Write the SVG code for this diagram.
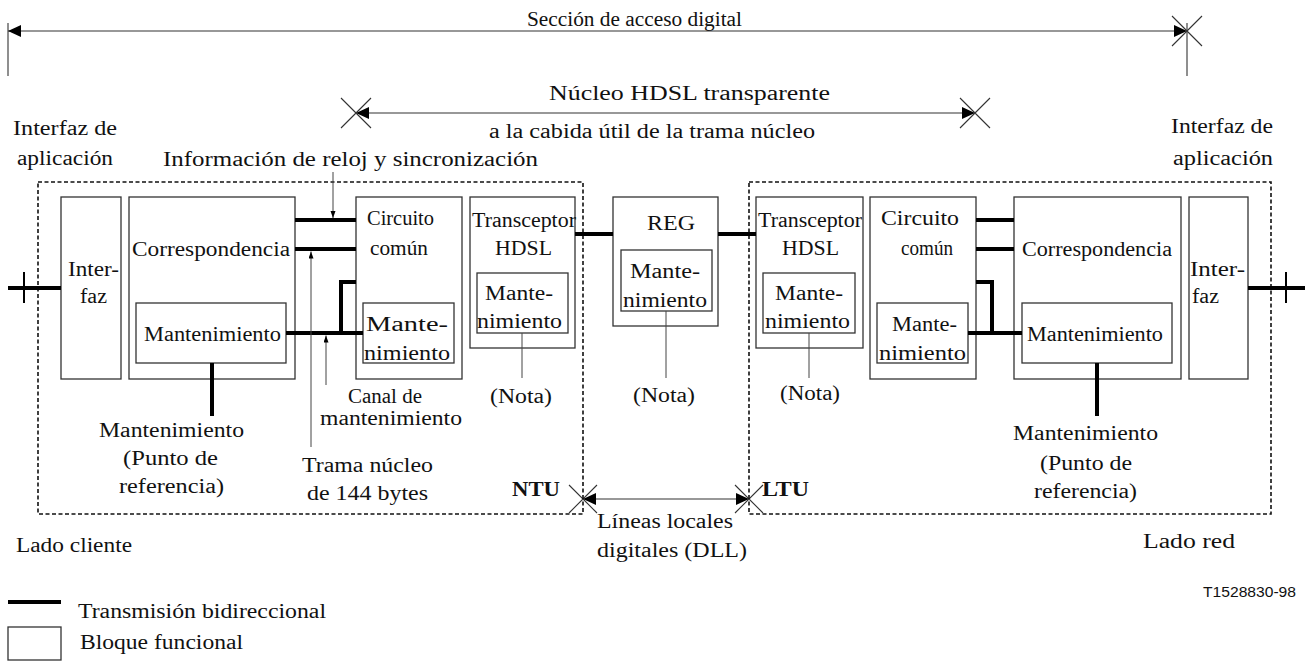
<svg xmlns="http://www.w3.org/2000/svg" width="1305" height="664" viewBox="0 0 1305 664" font-family="'Liberation Serif', 'DejaVu Serif', 'Times New Roman', serif">
  <style>
    text { font-family: 'Liberation Serif', 'DejaVu Serif', 'Times New Roman', serif; font-size: 20px; fill: #111; }
    text.sans { font-family: 'Liberation Sans', Arial, sans-serif; font-size: 14px; }
    .bold { font-weight: bold; }
    .blk { fill: #fff; stroke: #333; stroke-width: 1.3; }
    .unit { fill: none; stroke: #111; stroke-width: 1.6; stroke-dasharray: 4 2.5; }
    .bus { fill: none; stroke: #000; stroke-width: 4; }
    .port { stroke: #000; stroke-width: 2; }
    .thin { fill: none; stroke: #444; stroke-width: 1; }
    .dim { fill: none; stroke: #333; stroke-width: 1.1; }
  </style>
  <defs>
    <marker id="dimHead" markerUnits="userSpaceOnUse" markerWidth="15" markerHeight="14" refX="13" refY="6" orient="auto-start-reverse">
      <path d="M0,0 L13,6 L0,12 z" fill="#000"/>
    </marker>
    <marker id="ptr" markerUnits="userSpaceOnUse" markerWidth="8" markerHeight="6" refX="7" refY="2.5" orient="auto">
      <path d="M0,0 L7,2.5 L0,5 z" fill="#000"/>
    </marker>
  </defs>

  <!-- Dimension lines and reference points -->
  <g id="dimensions">
    <line class="dim" x1="8" y1="31" x2="1187" y2="31" marker-start="url(#dimHead)" marker-end="url(#dimHead)"/>
    <line class="dim" x1="8" y1="23" x2="8" y2="76"/>
    <line class="dim" x1="1187" y1="23" x2="1187" y2="76"/>
    <path class="dim" d="M1172,16 L1202,46 M1202,16 L1172,46"/>
    <text x="527" y="26" font-size="19" textLength="215" lengthAdjust="spacingAndGlyphs">Sección de acceso digital</text>

    <line class="dim" x1="356" y1="113" x2="975" y2="113" marker-start="url(#dimHead)" marker-end="url(#dimHead)"/>
    <path class="dim" d="M341,98 L371,128 M371,98 L341,128"/>
    <path class="dim" d="M960,98 L990,128 M990,98 L960,128"/>
    <text x="549" y="100" font-size="21" textLength="281" lengthAdjust="spacingAndGlyphs">Núcleo HDSL transparente</text>
    <text x="489" y="138" textLength="326" lengthAdjust="spacingAndGlyphs">a la cabida útil de la trama núcleo</text>

    <line class="dim" x1="583" y1="499" x2="749" y2="499" marker-start="url(#dimHead)" marker-end="url(#dimHead)"/>
    <path class="dim" d="M569,485 L597,513 M597,485 L569,513"/>
    <path class="dim" d="M735,485 L763,513 M763,485 L735,513"/>
    <text x="597" y="528" textLength="136" lengthAdjust="spacingAndGlyphs">Líneas locales</text>
    <text x="597" y="557" textLength="150" lengthAdjust="spacingAndGlyphs">digitales (DLL)</text>
  </g>

  <!-- Network termination unit (customer side) -->
  <g id="ntu">
    <rect class="unit" x="38" y="182" width="545" height="332"/>
    <text class="bold" x="512" y="496" textLength="48" lengthAdjust="spacingAndGlyphs">NTU</text>
  </g>
  <!-- Line termination unit (network side) -->
  <g id="ltu">
    <rect class="unit" x="749" y="182" width="522" height="332"/>
    <text class="bold" x="762" y="496" textLength="47" lengthAdjust="spacingAndGlyphs">LTU</text>
  </g>

  <!-- Customer-side blocks -->
  <g id="ntu-interfaz">
    <rect class="blk" x="61" y="197" width="60" height="182"/>
    <text x="68" y="276" textLength="51" lengthAdjust="spacingAndGlyphs">Inter-</text>
    <text x="80" y="303" textLength="27" lengthAdjust="spacingAndGlyphs">faz</text>
  </g>
  <g id="ntu-correspondencia">
    <rect class="blk" x="129" y="197" width="166" height="182"/>
    <text x="132" y="256" textLength="158" lengthAdjust="spacingAndGlyphs">Correspondencia</text>
    <rect class="blk" x="136" y="303" width="150" height="60"/>
    <text x="144" y="341" textLength="137" lengthAdjust="spacingAndGlyphs">Mantenimiento</text>
  </g>
  <g id="ntu-circuito">
    <rect class="blk" x="356" y="197" width="106" height="182"/>
    <text x="367" y="225" textLength="67" lengthAdjust="spacingAndGlyphs">Circuito</text>
    <text x="370" y="255" textLength="58" lengthAdjust="spacingAndGlyphs">común</text>
    <rect class="blk" x="363" y="303" width="91" height="60"/>
    <text x="366" y="331" textLength="82" lengthAdjust="spacingAndGlyphs">Mante-</text>
    <text x="364" y="360" textLength="86" lengthAdjust="spacingAndGlyphs">nimiento</text>
  </g>
  <g id="ntu-transceptor">
    <rect class="blk" x="470" y="197" width="105" height="151"/>
    <text x="472" y="227" textLength="104" lengthAdjust="spacingAndGlyphs">Transceptor</text>
    <text x="495" y="255" textLength="57" lengthAdjust="spacingAndGlyphs">HDSL</text>
    <rect class="blk" x="477" y="273" width="91" height="60"/>
    <text x="485" y="300" textLength="68" lengthAdjust="spacingAndGlyphs">Mante-</text>
    <text x="477" y="328" textLength="85" lengthAdjust="spacingAndGlyphs">nimiento</text>
    <text x="490" y="403" textLength="62" lengthAdjust="spacingAndGlyphs">(Nota)</text>
  </g>

  <!-- Regenerator -->
  <g id="reg">
    <rect class="blk" x="613" y="197" width="105" height="129"/>
    <text x="647" y="230" textLength="48" lengthAdjust="spacingAndGlyphs">REG</text>
    <rect class="blk" x="621" y="250" width="91" height="61"/>
    <text x="630" y="278" textLength="70" lengthAdjust="spacingAndGlyphs">Mante-</text>
    <text x="623" y="307" textLength="84" lengthAdjust="spacingAndGlyphs">nimiento</text>
    <text x="633" y="402" textLength="62" lengthAdjust="spacingAndGlyphs">(Nota)</text>
  </g>

  <!-- Network-side blocks -->
  <g id="ltu-transceptor">
    <rect class="blk" x="756" y="197" width="107" height="151"/>
    <text x="758" y="227" textLength="104" lengthAdjust="spacingAndGlyphs">Transceptor</text>
    <text x="782" y="255" textLength="57" lengthAdjust="spacingAndGlyphs">HDSL</text>
    <rect class="blk" x="763" y="273" width="92" height="60"/>
    <text x="775" y="300" textLength="68" lengthAdjust="spacingAndGlyphs">Mante-</text>
    <text x="765" y="328" textLength="85" lengthAdjust="spacingAndGlyphs">nimiento</text>
    <text x="780" y="400" textLength="60" lengthAdjust="spacingAndGlyphs">(Nota)</text>
  </g>
  <g id="ltu-circuito">
    <rect class="blk" x="870" y="197" width="106" height="182"/>
    <text x="881" y="225" textLength="78" lengthAdjust="spacingAndGlyphs">Circuito</text>
    <text x="901" y="255" textLength="52" lengthAdjust="spacingAndGlyphs">común</text>
    <rect class="blk" x="877" y="303" width="91" height="60"/>
    <text x="892" y="331" textLength="65" lengthAdjust="spacingAndGlyphs">Mante-</text>
    <text x="879" y="360" textLength="87" lengthAdjust="spacingAndGlyphs">nimiento</text>
  </g>
  <g id="ltu-correspondencia">
    <rect class="blk" x="1014" y="197" width="167" height="182"/>
    <text x="1022" y="256" textLength="150" lengthAdjust="spacingAndGlyphs">Correspondencia</text>
    <rect class="blk" x="1022" y="303" width="150" height="60"/>
    <text x="1027" y="341" textLength="136" lengthAdjust="spacingAndGlyphs">Mantenimiento</text>
  </g>
  <g id="ltu-interfaz">
    <rect class="blk" x="1189" y="197" width="59" height="182"/>
    <text x="1190" y="276" textLength="55" lengthAdjust="spacingAndGlyphs">Inter-</text>
    <text x="1192" y="303" textLength="27" lengthAdjust="spacingAndGlyphs">faz</text>
  </g>

  <!-- Bidirectional transmission paths and pointers -->
  <g id="connectors">
    <!-- customer side -->
    <line class="bus" x1="8" y1="288" x2="61" y2="288"/>
    <line class="port" x1="24" y1="272" x2="24" y2="303"/>
    <line class="bus" x1="295" y1="220" x2="356" y2="220"/>
    <line class="bus" x1="295" y1="249" x2="356" y2="249"/>
    <line class="bus" x1="286" y1="333" x2="363" y2="333"/>
    <polyline class="bus" points="341,335 341,282 356,282"/>
    <line class="bus" x1="212" y1="363" x2="212" y2="416"/>
    <!-- line side -->
    <line class="bus" x1="575" y1="234" x2="613" y2="234"/>
    <line class="bus" x1="718" y1="234" x2="756" y2="234"/>
    <!-- network side -->
    <line class="bus" x1="976" y1="220" x2="1014" y2="220"/>
    <line class="bus" x1="976" y1="249" x2="1014" y2="249"/>
    <line class="bus" x1="968" y1="333" x2="1022" y2="333"/>
    <polyline class="bus" points="976,282 992,282 992,335"/>
    <line class="bus" x1="1097" y1="363" x2="1097" y2="416"/>
    <line class="bus" x1="1248" y1="288" x2="1305" y2="288"/>
    <line class="port" x1="1286" y1="272" x2="1286" y2="303"/>

    <!-- maintenance note leaders -->
    <line class="thin" x1="522" y1="333" x2="522" y2="378"/>
    <line class="thin" x1="666" y1="311" x2="666" y2="378"/>
    <line class="thin" x1="809" y1="333" x2="809" y2="378"/>

    <!-- pointers -->
    <line class="thin" x1="333" y1="172" x2="333" y2="218" marker-end="url(#ptr)"/>
    <line class="thin" x1="311" y1="447" x2="311" y2="251.5" marker-end="url(#ptr)"/>
    <line class="thin" x1="326" y1="385" x2="326" y2="335.5" marker-end="url(#ptr)"/>
  </g>

  <!-- Free labels -->
  <g id="labels">
    <text x="13" y="135" textLength="104" lengthAdjust="spacingAndGlyphs">Interfaz de</text>
    <text x="17" y="165" textLength="96" lengthAdjust="spacingAndGlyphs">aplicación</text>
    <text x="1171" y="133" textLength="102" lengthAdjust="spacingAndGlyphs">Interfaz de</text>
    <text x="1173" y="165" textLength="100" lengthAdjust="spacingAndGlyphs">aplicación</text>
    <text x="163" y="166" textLength="375" lengthAdjust="spacingAndGlyphs">Información de reloj y sincronización</text>

    <text x="348" y="403" textLength="74" lengthAdjust="spacingAndGlyphs">Canal de</text>
    <text x="320" y="425" textLength="142" lengthAdjust="spacingAndGlyphs">mantenimiento</text>
    <text x="302" y="472" textLength="131" lengthAdjust="spacingAndGlyphs">Trama núcleo</text>
    <text x="307" y="500" textLength="121" lengthAdjust="spacingAndGlyphs">de 144 bytes</text>

    <text x="99" y="437" textLength="145" lengthAdjust="spacingAndGlyphs">Mantenimiento</text>
    <text x="123" y="465" textLength="95" lengthAdjust="spacingAndGlyphs">(Punto de</text>
    <text x="119" y="493" textLength="105" lengthAdjust="spacingAndGlyphs">referencia)</text>

    <text x="1013" y="440" textLength="145" lengthAdjust="spacingAndGlyphs">Mantenimiento</text>
    <text x="1040" y="470" textLength="92" lengthAdjust="spacingAndGlyphs">(Punto de</text>
    <text x="1034" y="498" textLength="103" lengthAdjust="spacingAndGlyphs">referencia)</text>

    <text x="16" y="552" textLength="116" lengthAdjust="spacingAndGlyphs">Lado cliente</text>
    <text x="1143" y="548" textLength="92" lengthAdjust="spacingAndGlyphs">Lado red</text>
    <text class="sans" x="1203" y="597" textLength="93" lengthAdjust="spacingAndGlyphs">T1528830-98</text>
  </g>

  <!-- Legend -->
  <g id="legend">
    <line class="bus" x1="8" y1="602" x2="61" y2="602"/>
    <text x="78" y="618" textLength="248" lengthAdjust="spacingAndGlyphs">Transmisión bidireccional</text>
    <rect class="blk" x="8" y="627" width="53" height="33"/>
    <text x="80" y="649" textLength="163" lengthAdjust="spacingAndGlyphs">Bloque funcional</text>
  </g>
</svg>
